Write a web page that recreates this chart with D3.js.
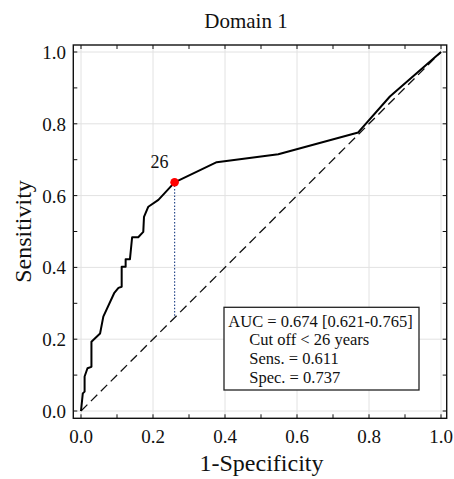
<!DOCTYPE html>
<html>
<head>
<meta charset="utf-8">
<script src="https://cdn.jsdelivr.net/npm/d3@7"></script>
<style>
  html, body { margin: 0; padding: 0; background: #fff; }
  svg { display: block; }
  text { font-family: "Liberation Serif", "Times New Roman", serif; fill: #111; }
</style>
</head>
<body>
<div id="chart"></div>
<script>
// ---- data ----
const fpr = [0, 0, 0.005, 0.010, 0.010, 0.018, 0.029, 0.029, 0.053, 0.062, 0.092, 0.104, 0.113, 0.113, 0.124, 0.124, 0.136, 0.142, 0.159, 0.173, 0.175, 0.187, 0.215, 0.260, 0.377, 0.548, 0.770, 0.858, 1.0];
const tpr = [0, 0, 0.049, 0.054, 0.096, 0.119, 0.123, 0.193, 0.216, 0.263, 0.328, 0.343, 0.346, 0.402, 0.402, 0.423, 0.423, 0.484, 0.484, 0.499, 0.541, 0.569, 0.588, 0.637, 0.693, 0.715, 0.776, 0.876, 1.0];
const cutX = 0.260, cutY = 0.637, cutLabel = "26";
const diagonal = [0, 1];
const tickValues = [0, 0.2, 0.4, 0.6, 0.8, 1.0];
const minorTicks = [0, 0.1, 0.2, 0.3, 0.4, 0.5, 0.6, 0.7, 0.8, 0.9, 1.0];
const legendLines = ["AUC = 0.674 [0.621-0.765]", "Cut off < 26 years", "Sens. = 0.611", "Spec. = 0.737"];
const title = "Domain 1", xTitle = "1-Specificity", yTitle = "Sensitivity";

// ---- layout ----
const W = 454, H = 479;
const frame = { left: 73.3, right: 446.7, top: 45, bottom: 418.3 };
const x = d3.scaleLinear().domain([0, 1]).range([81, 441]);
const y = d3.scaleLinear().domain([0, 1]).range([411, 52]);

const svg = d3.select("#chart").append("svg").attr("width", W).attr("height", H);

// grid
const grid = svg.append("g");
grid.selectAll("line.gx").data(tickValues).join("line")
  .attr("x1", d => x(d)).attr("x2", d => x(d))
  .attr("y1", frame.top).attr("y2", frame.bottom)
  .attr("stroke", "#e2e2e2").attr("stroke-width", 1);
grid.selectAll("line.gy").data(tickValues).join("line")
  .attr("y1", d => y(d)).attr("y2", d => y(d))
  .attr("x1", frame.left).attr("x2", frame.right)
  .attr("stroke", "#e2e2e2").attr("stroke-width", 1);

// diagonal
svg.append("line")
  .attr("x1", x(diagonal[0])).attr("y1", y(diagonal[0]))
  .attr("x2", x(diagonal[1])).attr("y2", y(diagonal[1]))
  .attr("stroke", "#111").attr("stroke-width", 1.3)
  .attr("stroke-dasharray", "9,5");

// dotted drop line
svg.append("line")
  .attr("x1", x(cutX)).attr("y1", y(cutY))
  .attr("x2", x(cutX)).attr("y2", y(cutX))
  .attr("stroke", "#2b4a8c").attr("stroke-width", 1.2)
  .attr("stroke-dasharray", "1.5,1.8");

// ROC curve
const pts = fpr.map((d, i) => [d, tpr[i]]);
svg.append("path")
  .attr("d", d3.line().x(d => x(d[0])).y(d => y(d[1]))(pts))
  .attr("fill", "none").attr("stroke", "#000").attr("stroke-width", 2)
  .attr("stroke-linejoin", "round");

// cut point
svg.append("circle").attr("cx", x(cutX)).attr("cy", y(cutY)).attr("r", 4.3).attr("fill", "#ff0000");
svg.append("text").attr("x", x(cutX) - 6).attr("y", y(cutY) - 14)
  .attr("text-anchor", "end").attr("font-size", 18).text(cutLabel);

// frame
svg.append("rect")
  .attr("x", frame.left).attr("y", frame.top)
  .attr("width", frame.right - frame.left).attr("height", frame.bottom - frame.top)
  .attr("fill", "none").attr("stroke", "#111").attr("stroke-width", 1.4);

// ticks (inward, all four sides)
const tk = svg.append("g").attr("stroke", "#111").attr("stroke-width", 1);
minorTicks.forEach(v => {
  const len = 4;
  tk.append("line").attr("x1", x(v)).attr("x2", x(v)).attr("y1", frame.bottom).attr("y2", frame.bottom - len);
  tk.append("line").attr("x1", x(v)).attr("x2", x(v)).attr("y1", frame.top).attr("y2", frame.top + len);
  tk.append("line").attr("y1", y(v)).attr("y2", y(v)).attr("x1", frame.left).attr("x2", frame.left + len);
  tk.append("line").attr("y1", y(v)).attr("y2", y(v)).attr("x1", frame.right).attr("x2", frame.right - len);
});

// tick labels
svg.selectAll("text.xt").data(tickValues).join("text")
  .attr("x", d => x(d)).attr("y", 442.7).attr("text-anchor", "middle")
  .attr("font-size", 19).text(d => d3.format(".1f")(d));
svg.selectAll("text.yt").data(tickValues).join("text")
  .attr("x", 66).attr("y", d => y(d) + 7).attr("text-anchor", "end")
  .attr("font-size", 19).text(d => d3.format(".1f")(d));

// titles
svg.append("text").attr("x", 246).attr("y", 28).attr("text-anchor", "middle")
  .attr("font-size", 21).text(title);
svg.append("text").attr("x", 261.5).attr("y", 471).attr("text-anchor", "middle")
  .attr("font-size", 24).text(xTitle);
svg.append("text").attr("transform", `translate(31,${(y(0) + y(1)) / 2}) rotate(-90)`)
  .attr("text-anchor", "middle").attr("font-size", 24).text(yTitle);

// legend box
const lg = svg.append("g");
lg.append("rect").attr("x", 224).attr("y", 307.3).attr("width", 195).attr("height", 82.7)
  .attr("fill", "#fff").attr("stroke", "#222").attr("stroke-width", 1.3);
const baselines = [326.7, 345.3, 364, 382.7];
legendLines.forEach((t, i) => {
  lg.append("text").attr("x", i === 0 ? 228.3 : 249.3).attr("y", baselines[i])
    .attr("font-size", 16.5).text(t);
});
</script>
</body>
</html>
